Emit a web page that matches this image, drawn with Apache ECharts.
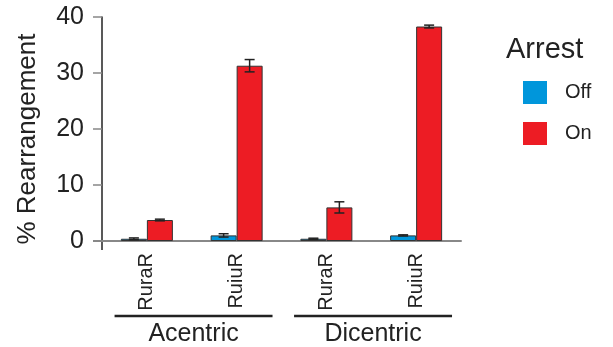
<!DOCTYPE html>
<html><head><meta charset="utf-8">
<script src="https://cdn.jsdelivr.net/npm/echarts@6/dist/echarts.min.js"></script>
<style>html,body{margin:0;padding:0;background:#fff}#c{width:613px;height:347px}</style>
</head><body><div id="c"></div>
<script>
var categories = ['RuraR', 'RuiuR', 'RuraR', 'RuiuR'];
var groups = ['Acentric', 'Dicentric'];
var groupSpans = [[0, 1], [2, 3]];
var offValues = [0.4, 1.0, 0.4, 1.0];
var offErrors = [0.15, 0.3, 0.1, 0.1];
var onValues = [3.75, 31.3, 6.0, 38.3];
var onErrors = [0.15, 1.1, 1.0, 0.25];
var yTicks = [0, 10, 20, 30, 40];
var seriesNames = ['Off', 'On'];

var FONT = 'Liberation Sans, Arial, sans-serif';
var BW = 26;
var chart = echarts.init(document.getElementById('c'));

function errSeries(vals, errs, side) {
  return {
    type: 'custom', z: 5, silent: true,
    data: vals.map(function (v, i) { return [i, v, errs[i]]; }),
    renderItem: function (params, api) {
      var i = api.value(0), v = api.value(1), e = api.value(2);
      var top = api.coord([i, v + e]), bot = api.coord([i, v - e]);
      var x = top[0] + side * BW / 2;
      var st = { stroke: '#222', lineWidth: 1.5 };
      return { type: 'group', children: [
        { type: 'line', shape: { x1: x, y1: top[1], x2: x, y2: bot[1] }, style: st },
        { type: 'line', shape: { x1: x - 5, y1: top[1], x2: x + 5, y2: top[1] }, style: st },
        { type: 'line', shape: { x1: x - 5, y1: bot[1], x2: x + 5, y2: bot[1] }, style: st }
      ]};
    }
  };
}

var option = {
  animation: false,
  textStyle: { fontFamily: FONT },
  title: { text: 'Arrest', left: 501, top: 30, textStyle: { fontFamily: FONT, fontSize: 29, fontWeight: 'normal', color: '#222' } },
  legend: {
    data: seriesNames, orient: 'vertical', left: 518, top: 76,
    icon: 'rect', itemWidth: 24, itemHeight: 23, itemGap: 18, itemStyle: { borderWidth: 0 },
    textStyle: { fontFamily: FONT, fontSize: 20, color: '#222', padding: [0, 0, 0, 13] }
  },
  grid: { left: 102, right: 152, top: 17, bottom: 106, containLabel: false },
  xAxis: {
    type: 'category', data: categories,
    axisLine: { lineStyle: { color: '#888', width: 2 } },
    axisTick: { show: false },
    axisLabel: { rotate: 90, fontSize: 20, color: '#222', margin: 12, fontFamily: FONT }
  },
  yAxis: {
    type: 'value', min: 0, max: 40, interval: 10,
    name: '% Rearrangement', nameLocation: 'middle', nameGap: 61,
    nameTextStyle: { fontSize: 26, color: '#222', fontFamily: FONT, padding: [0, 20, 0, 0] },
    axisLine: { show: true, lineStyle: { color: '#222', width: 1.5 } },
    axisTick: { show: true, length: 9, lineStyle: { color: '#888', width: 1.5 } },
    axisLabel: { fontSize: 25, color: '#222', margin: 18, fontFamily: FONT },
    splitLine: { show: false }
  },
  series: [
    { name: 'Off', type: 'bar', data: offValues, barWidth: BW, barGap: '0%',
      itemStyle: { color: '#0096db', borderColor: '#333', borderWidth: 1 } },
    { name: 'On', type: 'bar', data: onValues, barWidth: BW,
      itemStyle: { color: '#ed1c24', borderColor: '#333', borderWidth: 1 } },
    errSeries(offValues, offErrors, -1),
    errSeries(onValues, onErrors, 1)
  ]
};
chart.setOption(option);

var g = [];
var y0 = chart.convertToPixel({ yAxisIndex: 0 }, 0);
var x0 = chart.convertToPixel({ xAxisIndex: 0 }, 0);
var x1 = chart.convertToPixel({ xAxisIndex: 0 }, 1);
var cw = x1 - x0;
g.push({ type: 'line', shape: { x1: 102, y1: y0, x2: 102, y2: y0 + 9 }, style: { stroke: '#222', lineWidth: 1.5 } });
g.push({ type: 'line', shape: { x1: 93, y1: y0, x2: 102, y2: y0 }, style: { stroke: '#888', lineWidth: 2 } });
groups.forEach(function (name, k) {
  var a = chart.convertToPixel({ xAxisIndex: 0 }, groupSpans[k][0]);
  var b = chart.convertToPixel({ xAxisIndex: 0 }, groupSpans[k][1]);
  var l = a - cw * 0.36, r = b + cw * 0.4;
  g.push({ type: 'line', shape: { x1: l, y1: y0 + 75, x2: r, y2: y0 + 75 }, style: { stroke: '#222', lineWidth: 2.5 } });
  g.push({ type: 'text', x: (l + r) / 2, y: y0 + 93, style: { text: name, font: '25px ' + FONT, fill: '#222', textAlign: 'center', textVerticalAlign: 'middle' } });
});
chart.setOption({ graphic: g });
</script>
</body></html>
